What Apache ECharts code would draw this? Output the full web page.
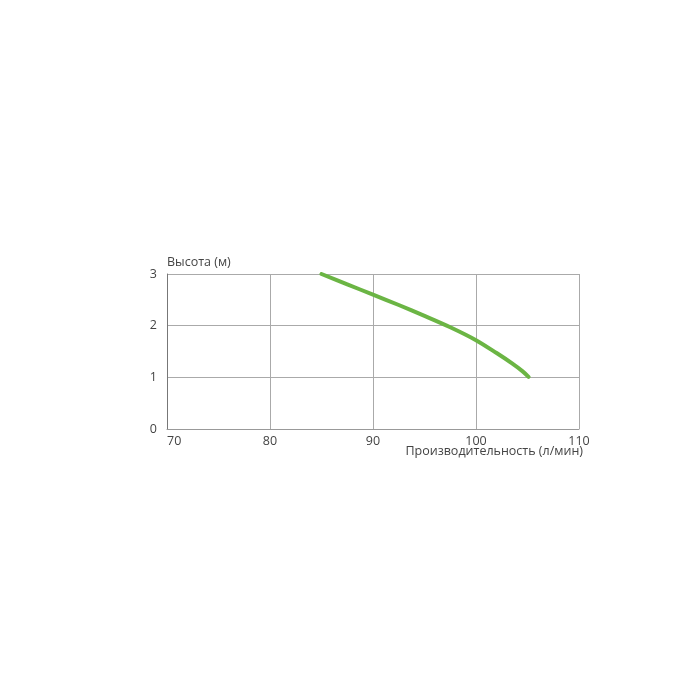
<!DOCTYPE html>
<html><head><meta charset="utf-8">
<script src="https://cdn.jsdelivr.net/npm/echarts@6/dist/echarts.min.js"></script>
<style>html,body{margin:0;padding:0;background:#fff}#c{width:700px;height:700px}</style>
</head><body><div id="c"></div>
<script>
const flow = [85, 87.5, 90, 92.5, 95, 97.5, 100, 102, 103.5, 104.5, 105.1];
const head = [3.0, 2.8, 2.6, 2.4, 2.19, 1.97, 1.72, 1.47, 1.27, 1.12, 1.01];
const xTicks = [70, 80, 90, 100, 110];
const yTicks = [0, 1, 2, 3];
const xName = 'Производительность (л/мин)';
const yName = 'Высота (м)';

const chart = echarts.init(document.getElementById('c'));
const font = 'Open Sans';
const fs = 12.5;
chart.setOption({
  animation: false,
  backgroundColor: '#fff',
  grid: {left: 167, right: 121, top: 274, bottom: 271, containLabel: false, outerBoundsMode: 'none'},
  graphic: [{
    type: 'text', right: 117, top: 445,
    style: {text: xName, fill: '#444', font: fs + 'px "Open Sans"'}
  }],
  xAxis: {
    type: 'value', min: xTicks[0], max: xTicks[xTicks.length-1], interval: 10,
    axisLine: {show: true, lineStyle: {color: '#999', width: 1}},
    axisTick: {show: false},
    splitLine: {show: true, lineStyle: {color: '#aaa', width: 1}},
    axisLabel: {color: '#444', fontFamily: font, fontSize: fs, margin: 6, alignMinLabel: 'left'}
  },
  yAxis: {
    type: 'value', min: yTicks[0], max: yTicks[yTicks.length-1], interval: 1,
    axisLine: {show: true, lineStyle: {color: '#777', width: 1}},
    axisTick: {show: false},
    splitLine: {show: true, lineStyle: {color: '#aaa', width: 1}},
    axisLabel: {color: '#444', fontFamily: font, fontSize: fs, margin: 10},
    name: yName, nameLocation: 'end', nameGap: 12,
    nameTextStyle: {color: '#444', fontFamily: font, fontSize: fs, align: 'left', verticalAlign: 'middle'}
  },
  series: [{
    type: 'line', smooth: 0.3, showSymbol: false,
    data: flow.map((f, i) => [f, head[i]]),
    lineStyle: {color: '#6bb544', width: 4, cap: 'round'}
  }]
});
</script></body></html>
